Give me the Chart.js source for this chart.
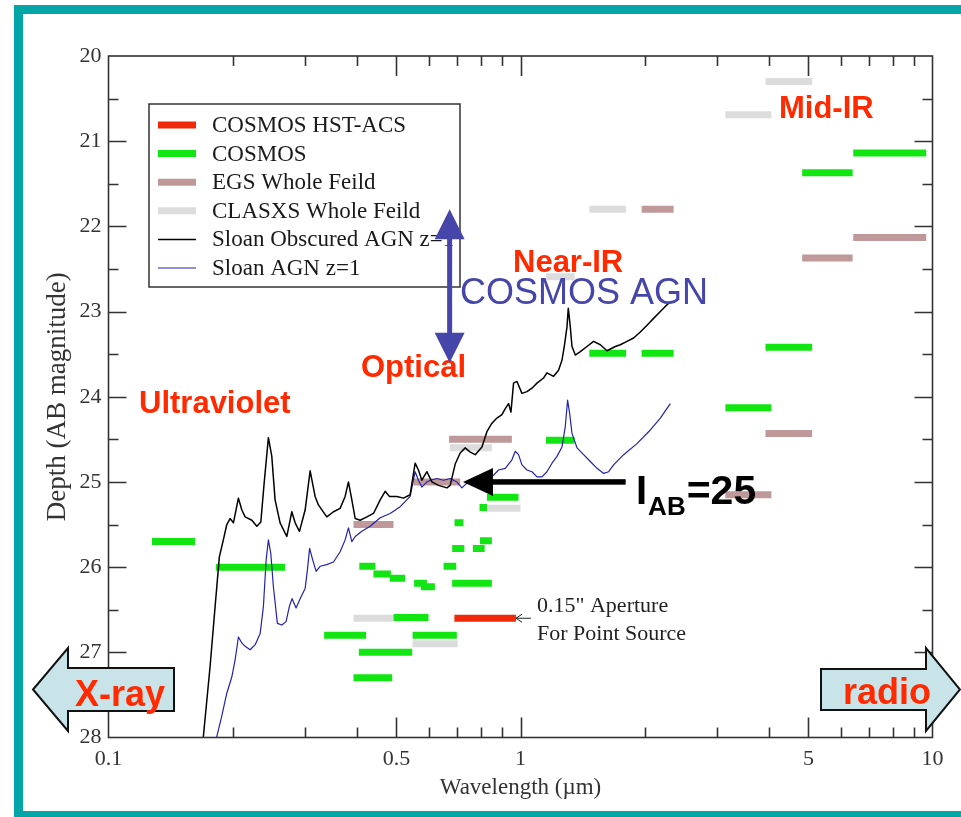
<!DOCTYPE html>
<html>
<head>
<meta charset="utf-8">
<title>Survey depth vs wavelength</title>
<script src="https://cdn.jsdelivr.net/npm/chart.js@4.4.3/dist/chart.umd.min.js"></script>
<style>
  html, body { margin: 0; padding: 0; background: #fff; }
  #wrap { width: 961px; height: 817px; }
</style>
</head>
<body>
<div id="wrap"><canvas id="depth-chart" width="961" height="817"></canvas></div>
<script>
// filter bands: start / end wavelength (micron) and depth (AB mag)
const hstStart = [0.691];
const hstEnd = [0.975];
const hstDepth = [26.6];

const cosmosStart = [0.1275, 0.1824, 0.3337, 0.4051, 0.3932, 0.4062, 0.4395, 0.4815, 0.5519, 0.5731,
  0.4917, 0.547, 0.6505, 0.6826, 0.6916, 0.6826, 0.7663, 0.7975, 0.8289, 0.7954,
  1.153, 1.469, 1.968, 3.142, 3.932, 4.826, 6.42];
const cosmosEnd = [0.1622, 0.2683, 0.422, 0.546, 0.4882, 0.4446, 0.4846, 0.5249, 0.5927, 0.6198,
  0.598, 0.7006, 0.6983, 0.852, 0.7272, 0.7307, 0.8185, 0.852, 0.989, 0.8289,
  1.353, 1.804, 2.353, 4.064, 5.104, 6.4, 9.655];
const cosmosDepth = [25.7, 26.0, 26.8, 27.0, 27.3, 25.99, 26.08, 26.13, 26.19, 26.23,
  26.59, 26.8, 25.99, 26.19, 25.48, 25.78, 25.78, 25.69, 25.18, 25.3,
  24.51, 23.49, 23.49, 24.13, 23.42, 21.37, 21.14];

const egsStart = [0.3932, 0.5499, 0.671, 1.968, 3.142, 3.932, 4.826, 6.42];
const egsEnd = [0.4917, 0.714, 0.953, 2.353, 4.064, 5.104, 6.4, 9.655];
const egsDepth = [25.5, 25.0, 24.5, 21.8, 25.15, 24.43, 22.37, 22.13];

const clasxsStart = [0.3932, 0.547, 0.674, 0.829, 1.153, 1.469, 3.142, 3.932];
const clasxsEnd = [0.4917, 0.704, 0.852, 1.0, 1.353, 1.804, 4.064, 5.104];
const clasxsDepth = [26.6, 26.9, 24.6, 25.31, 22.59, 21.8, 20.69, 20.3];

// template spectra
const obscuredWave = [0.1696, 0.1764, 0.1814, 0.1858, 0.19, 0.1937, 0.1973, 0.201, 0.2067, 0.2107,
  0.2146, 0.2228, 0.2291, 0.2343, 0.2386, 0.2444, 0.2491, 0.2537, 0.2609, 0.2709,
  0.2786, 0.2838, 0.2907, 0.3001, 0.3086, 0.3173, 0.3232, 0.3387, 0.3516, 0.3649,
  0.3753, 0.3823, 0.3896, 0.397, 0.4082, 0.4239, 0.4397, 0.4565, 0.4694, 0.4808,
  0.501, 0.52, 0.5397, 0.555, 0.5653, 0.5762, 0.5927, 0.6094, 0.6324, 0.6628,
  0.6751, 0.6942, 0.7139, 0.7341, 0.7551, 0.7765, 0.8061, 0.8289, 0.8524, 0.8765,
  0.9015, 0.9183, 0.9354, 0.948, 0.9619, 0.9804, 1.0081, 1.0368, 1.0661, 1.0965,
  1.1376, 1.1593, 1.203, 1.237, 1.2609, 1.2773, 1.2966, 1.3062, 1.3208, 1.3335,
  1.3583, 1.3968, 1.4502, 1.5046, 1.5621, 1.6218, 1.6987, 1.7471, 1.8134, 1.8818,
  1.9535, 2.0281, 2.1043, 2.1846, 2.2681, 2.323];
const obscuredMag = [28.03, 27.17, 26.47, 25.88, 25.68, 25.5, 25.43, 25.48, 25.19, 25.33,
  25.41, 25.45, 25.52, 25.47, 25.02, 24.48, 24.7, 25.21, 25.48, 25.64,
  25.35, 25.48, 25.58, 25.33, 24.87, 25.17, 25.27, 25.41, 25.35, 25.31,
  25.17, 25.0, 25.21, 25.43, 25.45, 25.41, 25.37, 25.21, 25.11, 25.17,
  25.17, 25.19, 25.15, 24.78, 24.86, 24.98, 24.88, 25.0, 25.04, 25.07,
  25.04, 24.79, 24.66, 24.6, 24.65, 24.68, 24.59, 24.41, 24.31, 24.25,
  24.21, 24.14, 24.08, 24.18, 23.84, 23.82, 23.96, 23.94, 23.9, 23.84,
  23.78, 23.72, 23.76, 23.69, 23.57, 23.41, 23.18, 22.96, 23.18, 23.41,
  23.51, 23.47, 23.41, 23.35, 23.39, 23.46, 23.41, 23.39, 23.35, 23.31,
  23.24, 23.16, 23.08, 23.0, 22.92, 22.88];

const agnWave = [0.1819, 0.1883, 0.1937, 0.1992, 0.2029, 0.2067, 0.2107, 0.2146, 0.2207, 0.227,
  0.2334, 0.2377, 0.2413, 0.2444, 0.2477, 0.2513, 0.257, 0.2634, 0.2698, 0.2748,
  0.279, 0.2853, 0.2918, 0.3001, 0.304, 0.3077, 0.3133, 0.3191, 0.3263, 0.3387,
  0.3516, 0.3649, 0.3753, 0.3823, 0.3896, 0.397, 0.4121, 0.4316, 0.4565, 0.4826,
  0.5105, 0.5397, 0.555, 0.5653, 0.5762, 0.5927, 0.6038, 0.6267, 0.6505, 0.6751,
  0.7006, 0.7209, 0.7383, 0.7765, 0.8211, 0.8524, 0.8844, 0.9183, 0.9533, 0.9711,
  0.9892, 1.0081, 1.0368, 1.0661, 1.0965, 1.1275, 1.1593, 1.1923, 1.2262, 1.2609,
  1.2844, 1.301, 1.3156, 1.3335, 1.3715, 1.423, 1.4772, 1.5337, 1.5913, 1.6363,
  1.6827, 1.7796, 1.9172, 2.0659, 2.1846, 2.3103];
const agnMag = [28.05, 27.75, 27.48, 27.29, 27.09, 26.82, 26.89, 26.93, 26.97, 26.91,
  26.78, 26.46, 25.92, 25.68, 25.84, 26.23, 26.66, 26.68, 26.64, 26.46,
  26.37, 26.48, 26.37, 26.25, 26.03, 25.78, 25.92, 26.05, 25.99, 25.97,
  25.94, 25.82, 25.68, 25.54, 25.7, 25.64, 25.58, 25.52, 25.42, 25.37,
  25.29, 25.17, 24.88, 24.98, 25.06, 25.0, 24.98, 24.96, 24.98, 24.96,
  25.0, 25.07, 25.02, 25.0, 24.99, 24.94, 24.86, 24.84, 24.74, 24.64,
  24.68, 24.8, 24.86, 24.88, 24.94, 24.94, 24.88, 24.78, 24.7, 24.59,
  24.35, 24.04, 24.19, 24.43, 24.6, 24.68, 24.76, 24.84, 24.9, 24.88,
  24.8, 24.68, 24.55, 24.39, 24.25, 24.08];

// axis ticks
const xLabelValues = [0.1, 0.5, 1, 5, 10];
const xTickMarks = [0.2, 0.3, 0.4, 0.5, 0.6, 0.7, 0.8, 0.9, 1, 2, 3, 4, 5, 6, 7, 8, 9];
const xLongTicks = [0.5, 1, 5];
const yMajorTicks = [21, 22, 23, 24, 25, 26, 27];
const yMinorTicks = [20.5, 21.5, 22.5, 23.5, 24.5, 25.5, 26.5, 27.5];

const SERIF = '"Liberation Serif", "Times New Roman", serif';
const SANS = '"Liberation Sans", Arial, sans-serif';
const AXIS_COLOR = "#333333";
const LABEL_RED = "#ff2a00";
const ARROW_BLUE = "#4646aa";

function bandPoints(starts, ends, depths) {
  const points = [];
  starts.forEach((start, i) => {
    points.push({ x: start, y: depths[i] });
    points.push({ x: ends[i], y: depths[i] });
    points.push({ x: ends[i], y: null });
  });
  return points;
}

function spectrumPoints(waves, mags) {
  return waves.map((w, i) => ({ x: w, y: mags[i] }));
}

function bandDataset(label, color, starts, ends, depths, order) {
  return {
    label,
    data: bandPoints(starts, ends, depths),
    borderColor: color,
    backgroundColor: color,
    borderWidth: 7,
    borderCapStyle: "butt",
    spanGaps: false,
    pointRadius: 0,
    order,
  };
}

// legend order; lower "order" is drawn on top
const datasets = [
  bandDataset("COSMOS HST-ACS", "#f02a08", hstStart, hstEnd, hstDepth, 2),
  bandDataset("COSMOS", "#12e612", cosmosStart, cosmosEnd, cosmosDepth, 3),
  bandDataset("EGS Whole Feild", "#bf9999", egsStart, egsEnd, egsDepth, 4),
  bandDataset("CLASXS Whole Feild", "#dcdcdc", clasxsStart, clasxsEnd, clasxsDepth, 5),
  {
    label: "Sloan Obscured AGN z=1",
    data: spectrumPoints(obscuredWave, obscuredMag),
    borderColor: "#000000",
    borderWidth: 1.5,
    pointRadius: 0,
    tension: 0,
    order: 0,
  },
  {
    label: "Sloan AGN z=1",
    data: spectrumPoints(agnWave, agnMag),
    borderColor: "#2222aa",
    borderWidth: 1.2,
    pointRadius: 0,
    tension: 0,
    order: 1,
  },
];

function filledArrow(ctx, x1, y1, x2, y2, shaft, headLen, headHalf, color) {
  const ang = Math.atan2(y2 - y1, x2 - x1);
  const len = Math.hypot(x2 - x1, y2 - y1);
  ctx.save();
  ctx.translate(x2, y2);
  ctx.rotate(ang);
  ctx.fillStyle = color;
  ctx.fillRect(-len, -shaft / 2, len - headLen + 1, shaft);
  ctx.beginPath();
  ctx.moveTo(0, 0);
  ctx.lineTo(-headLen, -headHalf);
  ctx.lineTo(-headLen, headHalf);
  ctx.closePath();
  ctx.fill();
  ctx.restore();
}

function blockArrow(ctx, boxLeft, boxRight, boxTop, boxBottom, headBase, headTop, headBottom, tipX) {
  const midY = (boxTop + boxBottom) / 2;
  const tail = tipX < boxLeft ? boxRight : boxLeft;
  ctx.beginPath();
  ctx.moveTo(tail, boxTop);
  ctx.lineTo(headBase, boxTop);
  ctx.lineTo(headBase, headTop);
  ctx.lineTo(tipX, midY);
  ctx.lineTo(headBase, headBottom);
  ctx.lineTo(headBase, boxBottom);
  ctx.lineTo(tail, boxBottom);
  ctx.closePath();
  ctx.fillStyle = "#c8e4e8";
  ctx.fill();
  ctx.strokeStyle = "#111111";
  ctx.lineWidth = 2;
  ctx.stroke();
}

const overlayPlugin = {
  id: "figureOverlay",
  afterDraw(chart) {
    const { ctx, chartArea: area, scales } = chart;
    const X = (v) => scales.x.getPixelForValue(v);
    const Y = (v) => scales.y.getPixelForValue(v);
    ctx.save();

    // plot frame
    ctx.strokeStyle = AXIS_COLOR;
    ctx.lineWidth = 1.6;
    ctx.strokeRect(area.left, area.top, area.right - area.left, area.bottom - area.top);

    // inward tick marks on all four sides
    ctx.beginPath();
    xTickMarks.forEach((v) => {
      const px = Math.round(X(v)) + 0.5;
      const len = xLongTicks.includes(v) ? 20 : 10;
      ctx.moveTo(px, area.bottom);
      ctx.lineTo(px, area.bottom - len);
      ctx.moveTo(px, area.top);
      ctx.lineTo(px, area.top + len);
    });
    yMajorTicks.concat(yMinorTicks).forEach((v) => {
      const py = Math.round(Y(v)) + 0.5;
      const len = yMajorTicks.includes(v) ? 18 : 10;
      ctx.moveTo(area.left, py);
      ctx.lineTo(area.left + len, py);
      ctx.moveTo(area.right, py);
      ctx.lineTo(area.right - len, py);
    });
    ctx.stroke();

    // legend box
    const lgLeft = 149, lgTop = 104, lgRight = 460, lgBottom = 287;
    ctx.fillStyle = "#ffffff";
    ctx.fillRect(lgLeft, lgTop, lgRight - lgLeft, lgBottom - lgTop);
    ctx.strokeStyle = AXIS_COLOR;
    ctx.lineWidth = 1.5;
    ctx.strokeRect(lgLeft, lgTop, lgRight - lgLeft, lgBottom - lgTop);
    ctx.font = `23px ${SERIF}`;
    ctx.textBaseline = "middle";
    ctx.textAlign = "left";
    chart.data.datasets.forEach((ds, i) => {
      const rowY = 125 + i * 28.6;
      ctx.strokeStyle = ds.borderColor;
      ctx.lineWidth = ds.borderWidth;
      ctx.lineCap = "butt";
      ctx.beginPath();
      ctx.moveTo(158, rowY);
      ctx.lineTo(196, rowY);
      ctx.stroke();
      ctx.fillStyle = "#1a1a1a";
      ctx.fillText(ds.label, 212, rowY + 1);
    });

    // region labels
    ctx.textBaseline = "alphabetic";
    ctx.fillStyle = LABEL_RED;
    ctx.font = `bold 31px ${SANS}`;
    ctx.fillText("Ultraviolet", 139, 413);
    ctx.fillText("Optical", 361, 377);
    ctx.fillText("Near-IR", 513, 272);
    ctx.fillText("Mid-IR", 779, 118);

    ctx.fillStyle = ARROW_BLUE;
    ctx.font = `36px ${SANS}`;
    ctx.fillText("COSMOS AGN", 460, 304);

    // double arrow marking the COSMOS AGN range
    const ax = X(0.673);
    const aTop = Y(21.8);
    const aBottom = Y(23.6);
    const aMid = (aTop + aBottom) / 2;
    filledArrow(ctx, ax, aMid, ax, aTop, 5, 30, 15, ARROW_BLUE);
    filledArrow(ctx, ax, aMid, ax, aBottom, 5, 30, 15, ARROW_BLUE);

    // I_AB = 25 pointer
    filledArrow(ctx, X(1.8), Y(25.0), X(0.725), Y(25.0), 5.5, 30, 14, "#000000");
    ctx.fillStyle = "#000000";
    ctx.font = `bold 40px ${SANS}`;
    let tx = 636;
    ctx.fillText("I", tx, 504);
    tx += ctx.measureText("I").width + 1;
    ctx.font = `bold 26px ${SANS}`;
    ctx.fillText("AB", tx, 515);
    tx += ctx.measureText("AB").width + 1;
    ctx.font = `bold 41px ${SANS}`;
    ctx.fillText("=25", tx, 504);

    // aperture note for the HST band
    const tipX = X(0.975);
    const tipY = Y(26.6);
    ctx.strokeStyle = "#222222";
    ctx.lineWidth = 1;
    ctx.beginPath();
    ctx.moveTo(tipX, tipY);
    ctx.lineTo(X(1.06), tipY);
    ctx.moveTo(tipX + 6, tipY - 4);
    ctx.lineTo(tipX, tipY);
    ctx.lineTo(tipX + 6, tipY + 4);
    ctx.stroke();
    ctx.fillStyle = "#222222";
    ctx.font = `22px ${SERIF}`;
    ctx.fillText("0.15\" Aperture", 537, 612);
    ctx.fillText("For Point Source", 537, 640);

    // spectrum direction arrows
    blockArrow(ctx, 68, 174, 668, 711, 68, 648, 731, 33);
    blockArrow(ctx, 821, 926, 669, 710, 926, 648, 731, 960);
    ctx.fillStyle = LABEL_RED;
    ctx.font = `bold 36px ${SANS}`;
    ctx.fillText("X-ray", 75, 706);
    ctx.fillText("radio", 843, 704);

    // teal slide frame
    ctx.strokeStyle = "#02a6a6";
    ctx.lineWidth = 9;
    ctx.strokeRect(18.5, 9.5, 970, 806);

    ctx.restore();
  },
};

const canvas = document.getElementById("depth-chart");

new Chart(canvas, {
  type: "line",
  data: { datasets },
  options: {
    responsive: false,
    animation: false,
    events: [],
    layout: { padding: { top: 56, right: 28.5, bottom: 0, left: 0 } },
    elements: { point: { radius: 0 }, line: { borderJoinStyle: "round" } },
    plugins: {
      legend: { display: false },
      tooltip: { enabled: false },
    },
    scales: {
      x: {
        type: "logarithmic",
        min: 0.1,
        max: 10,
        grid: { display: false, drawTicks: false },
        border: { display: false },
        ticks: {
          autoSkip: false,
          maxRotation: 0,
          padding: 9,
          color: AXIS_COLOR,
          font: { family: SERIF, size: 22 },
          callback(value) {
            const hit = xLabelValues.find((v) => Math.abs(v - value) < v * 1e-6);
            return hit === undefined ? "" : String(hit);
          },
        },
        title: {
          display: true,
          text: "Wavelength (\u00b5m)",
          color: AXIS_COLOR,
          font: { family: SERIF, size: 23 },
          padding: { top: 0, bottom: 15 },
        },
        afterFit(scale) {
          scale.height = 79.5;
        },
      },
      y: {
        type: "linear",
        reverse: true,
        min: 20,
        max: 28,
        grid: { display: false, drawTicks: false },
        border: { display: false },
        ticks: {
          stepSize: 1,
          padding: 7,
          color: AXIS_COLOR,
          font: { family: SERIF, size: 22 },
        },
        title: {
          display: true,
          text: "Depth (AB magnitude)",
          color: AXIS_COLOR,
          font: { family: SERIF, size: 27 },
          padding: { top: 42, bottom: 0 },
        },
        afterFit(scale) {
          scale.width = 108.5;
        },
      },
    },
  },
  plugins: [overlayPlugin],
});
</script>
</body>
</html>
